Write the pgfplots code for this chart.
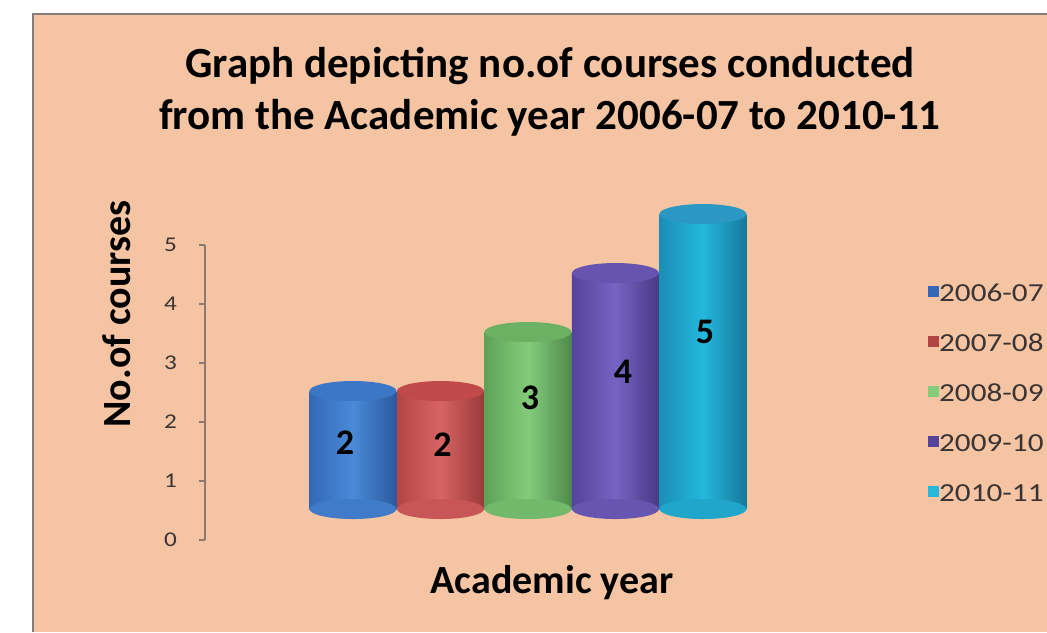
\documentclass[border=0pt]{standalone}
\usepackage{fontspec}
\setmainfont{Carlito}
\newfontfamily\wide[FakeStretch=1.2]{Carlito}
\usepackage{pgfplots}
\pgfplotsset{compat=1.18}

\definecolor{peach}{HTML}{F5C4A2}
\definecolor{framec}{HTML}{857C7C}
\definecolor{axisgray}{HTML}{8C7A72}
\definecolor{txt}{HTML}{3A3434}
% bar colours: m = face, e = edge, t = top
\definecolor{bluem}{HTML}{4A8AD8}\definecolor{bluee}{HTML}{3368B8}\definecolor{bluet}{HTML}{3C76C6}
\definecolor{redm}{HTML}{D86464}\definecolor{rede}{HTML}{B44444}\definecolor{redt}{HTML}{C04A4A}
\definecolor{greenm}{HTML}{84CC7C}\definecolor{greene}{HTML}{5EA258}\definecolor{greent}{HTML}{6CB064}
\definecolor{purplem}{HTML}{7664C2}\definecolor{purplee}{HTML}{54449C}\definecolor{purplet}{HTML}{6654B0}
\definecolor{cyanm}{HTML}{24B8DC}\definecolor{cyane}{HTML}{1A8EB6}\definecolor{cyant}{HTML}{2A98C2}

% ellipse used for the cylinder ends
\pgfdeclareplotmark{cyl}{%
  \pgfpathellipse{\pgfpointorigin}{\pgfqpoint{21.75pt}{0pt}}{\pgfqpoint{0pt}{5pt}}%
  \pgfusepathqfill}

% #1 x, #2 value, #3 colour, #4/#5 label shift
\newcommand\cyl[5]{%
  \addplot[forget plot, only marks, mark=cyl, mark options={fill=#3m!55!#3e}] coordinates {(#1,0)};
  \addplot[forget plot, ybar, bar width=43.5pt, bar shift=0pt, draw=none,
    left color=#3e, right color=#3e!85!black, middle color=#3m,
    nodes near coords,
    nodes near coords style={font=\bfseries\fontsize{18}{20}\selectfont, text=black,
      anchor=center, xshift=#4pt, yshift=#5pt}]
    coordinates {(#1,#2)};
  \addplot[forget plot, only marks, mark=cyl, mark options={fill=#3t}] coordinates {(#1,#2)};
}

\begin{document}
\begin{tikzpicture}[x=0.5pt, y=0.5pt]
\path[use as bounding box] (0,0) rectangle (1047,632);
\fill[white] (0,0) rectangle (1047,632);
\fill[peach] (33,0) rectangle (1047,618);
\draw[framec, line width=1.2pt] (33,0) -- (33,618) -- (1047,618);

% titles
\node[anchor=base, font=\bfseries\fontsize{21.5}{26}\selectfont] at (550,554) {Graph depicting no.of courses conducted};
\node[anchor=base, font=\bfseries\fontsize{21.5}{26}\selectfont] at (550,502) {from the Academic year 2006-07 to 2010-11};
\node[anchor=base, font=\bfseries\fontsize{20}{24}\selectfont] at (552,39) {Academic year};
\node[anchor=base, rotate=90, font=\bfseries\fontsize{20}{24}\selectfont] at (130,318) {No.of courses};

% value axis
\begin{axis}[
  at={(102.5pt,46pt)}, anchor=south west, scale only axis,
  width=297.5pt, height=147.5pt,
  xmin=-1.691, xmax=5.109, ymin=0, ymax=5,
  axis y line=left, axis x line=none, xtick=\empty,
  y axis line style={-, axisgray, line width=0.9pt},
  ytick={0,1,2,3,4,5}, tick align=outside, major tick length=3pt,
  tick style={axisgray, line width=0.8pt},
  yticklabel style={font=\wide\fontsize{10.5}{12}\selectfont, text=txt, xshift=-7.5pt},
  /pgf/number format/assume math mode=true
]
\addplot[draw=none, forget plot] coordinates {(0,0)};
\end{axis}

% cylinders, drawn 31px higher for the 3-D depth
\begin{axis}[
  at={(102.5pt,46pt)}, anchor=south west, scale only axis,
  width=297.5pt, height=147.5pt,
  xmin=-1.691, xmax=5.109, ymin=-0.525, ymax=4.475,
  hide axis, clip=false,
  /pgf/number format/assume math mode=true,
  legend style={at={(axis description cs:1.215,0.878)}, anchor=north west,
    draw=none, fill=none, inner sep=0pt, row sep=15pt,
    nodes={inner sep=0pt, anchor=west, text height=10pt, text depth=0pt,
      font=\wide\fontsize{13}{15}\selectfont, text=txt},
    /tikz/every even column/.append style={column sep=6pt}},
  legend cell align=left
]
\cyl{0}{2}{blue}{-4}{-26}
\cyl{1}{2}{red}{1}{-27}
\cyl{2}{3}{green}{1}{-33}
\cyl{3}{4}{purple}{3.75}{-49.5}
\cyl{4}{5}{cyan}{1}{-59}

\addlegendimage{legend image code/.code={\fill[bluee] (0pt,-2.5pt) rectangle (5pt,2.5pt);}}
\addlegendentry{2006-07}
\addlegendimage{legend image code/.code={\fill[rede] (0pt,-2.5pt) rectangle (5pt,2.5pt);}}
\addlegendentry{2007-08}
\addlegendimage{legend image code/.code={\fill[greenm] (0pt,-2.5pt) rectangle (5pt,2.5pt);}}
\addlegendentry{2008-09}
\addlegendimage{legend image code/.code={\fill[purplee] (0pt,-2.5pt) rectangle (5pt,2.5pt);}}
\addlegendentry{2009-10}
\addlegendimage{legend image code/.code={\fill[cyanm] (0pt,-2.5pt) rectangle (5pt,2.5pt);}}
\addlegendentry{2010-11}
\end{axis}
\end{tikzpicture}
\end{document}
